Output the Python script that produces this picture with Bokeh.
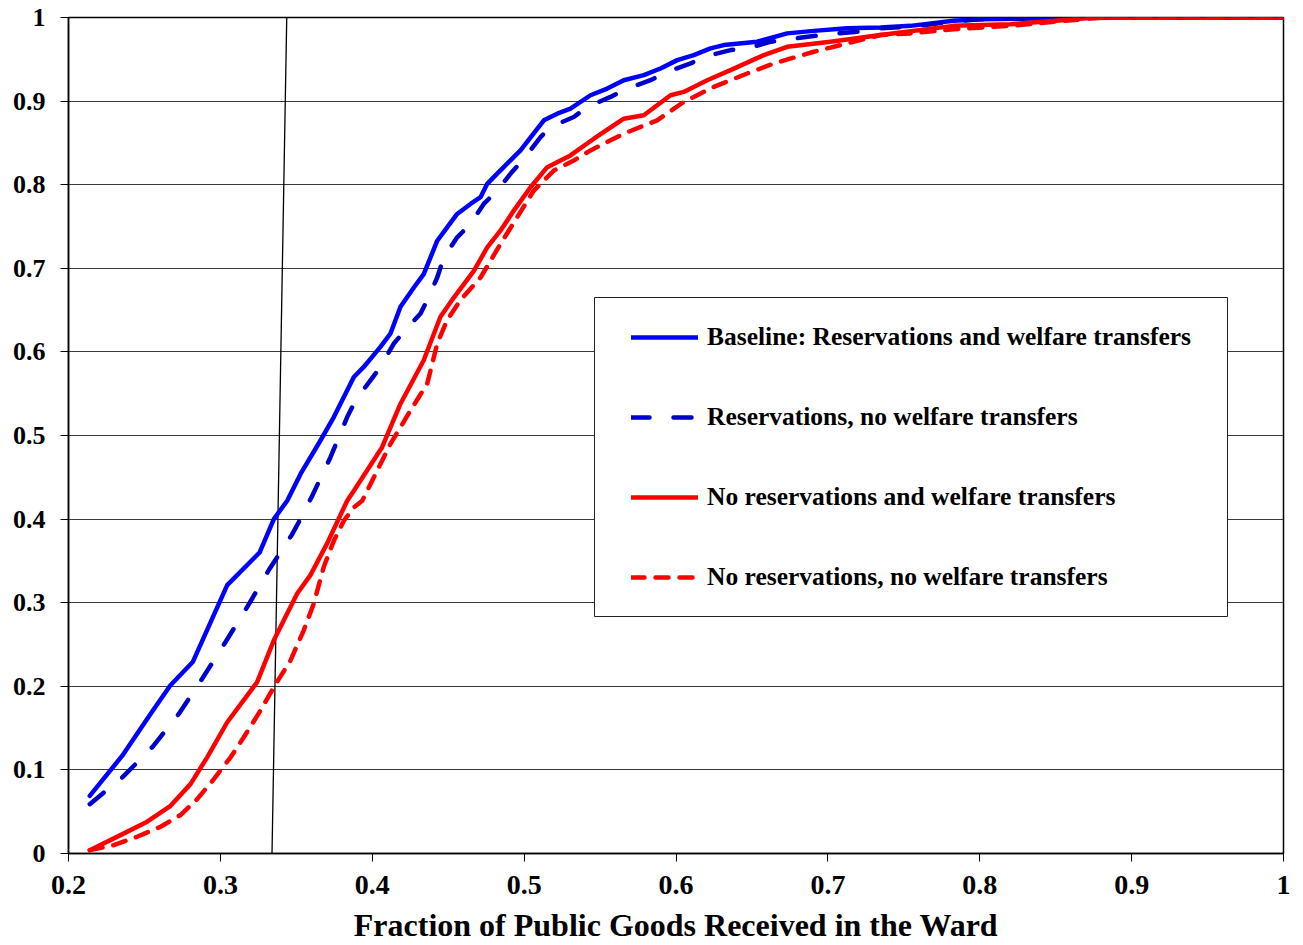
from bokeh.plotting import figure
from bokeh.models import FixedTicker, Legend, LegendItem, BoxAnnotation
from bokeh.embed import file_html
from bokeh.resources import INLINE

# ---------------- data ----------------
base_x = [0.214, 0.2354, 0.254, 0.267, 0.2818, 0.3045, 0.3258, 0.3352, 0.344, 0.3528, 0.3659, 0.3747,
          0.3879, 0.3944, 0.4054, 0.412, 0.4186, 0.4274, 0.4339, 0.4428, 0.4493, 0.4559, 0.4647, 0.4713,
          0.4757, 0.48, 0.491, 0.4976, 0.513, 0.5218, 0.5305, 0.5437, 0.5547, 0.5656, 0.5788, 0.5898,
          0.6008, 0.6117, 0.6227, 0.6315, 0.6534, 0.6732, 0.6907, 0.7127, 0.7346, 0.7544, 0.7827, 0.80,
          0.85, 0.9, 1.0]
base_y = [0.069, 0.117, 0.167, 0.201, 0.229, 0.321, 0.360, 0.400, 0.422, 0.454, 0.494, 0.522,
          0.570, 0.582, 0.606, 0.622, 0.654, 0.677, 0.693, 0.733, 0.749, 0.765, 0.777, 0.785,
          0.801, 0.809, 0.829, 0.841, 0.877, 0.885, 0.891, 0.907, 0.915, 0.925, 0.931, 0.939,
          0.949, 0.955, 0.963, 0.967, 0.971, 0.981, 0.984, 0.987, 0.988, 0.990, 0.996, 0.998,
          0.999, 1.0, 1.0]

res_nowel_x = [0.214, 0.2354, 0.2551, 0.2726, 0.288, 0.3034, 0.3177, 0.3319, 0.3473, 0.3539, 0.3605,
               0.3725, 0.3835, 0.389, 0.3988, 0.4054, 0.4142, 0.4208, 0.4318, 0.4362, 0.4428, 0.4471,
               0.4559, 0.4647, 0.4734, 0.4823, 0.491, 0.4998, 0.5108, 0.5174, 0.5327, 0.5415, 0.5569,
               0.5679, 0.5832, 0.5942, 0.6096, 0.6183, 0.6359, 0.6469, 0.6622, 0.6951, 0.7193, 0.7346,
               0.7544, 0.7827, 0.80, 0.85, 0.9, 1.0]
res_nowel_y = [0.059, 0.091, 0.127, 0.167, 0.209, 0.253, 0.295, 0.339, 0.382, 0.404, 0.428,
               0.474, 0.522, 0.542, 0.566, 0.582, 0.610, 0.624, 0.646, 0.662, 0.689, 0.713,
               0.737, 0.753, 0.777, 0.793, 0.813, 0.831, 0.857, 0.869, 0.881, 0.893, 0.905,
               0.915, 0.925, 0.935, 0.945, 0.953, 0.961, 0.963, 0.971, 0.979, 0.983, 0.987,
               0.989, 0.995, 0.998, 0.999, 1.0, 1.0]

nores_wel_x = [0.214, 0.2342, 0.2518, 0.2672, 0.2803, 0.2913, 0.3045, 0.3242, 0.3352, 0.344, 0.3506,
               0.3593, 0.3703, 0.3835, 0.3879, 0.4065, 0.4186, 0.4339, 0.4449, 0.4537, 0.4669, 0.4757,
               0.4844, 0.4932, 0.5042, 0.5152, 0.5305, 0.5459, 0.5656, 0.5788, 0.5964, 0.6051, 0.6205,
               0.6359, 0.6578, 0.6732, 0.7017, 0.7346, 0.7827, 0.8202, 0.85, 0.875, 1.0]
nores_wel_y = [0.004, 0.022, 0.038, 0.057, 0.083, 0.115, 0.157, 0.205, 0.255, 0.287, 0.311,
               0.333, 0.371, 0.422, 0.434, 0.486, 0.538, 0.590, 0.642, 0.665, 0.697, 0.725,
               0.745, 0.769, 0.797, 0.821, 0.835, 0.855, 0.879, 0.883, 0.907, 0.911, 0.925,
               0.937, 0.955, 0.965, 0.971, 0.979, 0.990, 0.992, 0.996, 1.0, 1.0]

nores_nowel_x = [0.214, 0.2298, 0.2452, 0.2606, 0.2737, 0.2847, 0.2957, 0.3067, 0.3154, 0.3264, 0.3352,
                 0.3462, 0.3549, 0.3615, 0.3681, 0.3747, 0.3813, 0.3879, 0.3934, 0.412, 0.4252, 0.4362,
                 0.4428, 0.4493, 0.4581, 0.4713, 0.4844, 0.4954, 0.5064, 0.5196, 0.5327, 0.5437, 0.5656,
                 0.5876, 0.6051, 0.6249, 0.6469, 0.6644, 0.6907, 0.7127, 0.7346, 0.7544, 0.7827, 0.8202,
                 0.85, 0.88, 1.0]
nores_nowel_y = [0.004, 0.010, 0.020, 0.032, 0.046, 0.065, 0.089, 0.115, 0.139, 0.171, 0.199,
                 0.231, 0.267, 0.299, 0.343, 0.374, 0.398, 0.414, 0.422, 0.490, 0.530, 0.562,
                 0.610, 0.638, 0.662, 0.689, 0.729, 0.761, 0.793, 0.817, 0.829, 0.841, 0.861,
                 0.877, 0.899, 0.917, 0.933, 0.945, 0.959, 0.969, 0.979, 0.981, 0.986, 0.990,
                 0.995, 1.0, 1.0]

ref_line_x = [0.3340, 0.3437]
ref_line_y = [0.0, 1.0]

series_labels = ["Baseline: Reservations and welfare transfers",
                 "Reservations, no welfare transfers",
                 "No reservations and welfare transfers",
                 "No reservations, no welfare transfers"]

x_ticks = [0.2, 0.3, 0.4, 0.5, 0.6, 0.7, 0.8, 0.9, 1.0]
x_tick_labels = ["0.2", "0.3", "0.4", "0.5", "0.6", "0.7", "0.8", "0.9", "1"]
y_ticks = [0.0, 0.1, 0.2, 0.3, 0.4, 0.5, 0.6, 0.7, 0.8, 0.9, 1.0]
y_tick_labels = ["0", "0.1", "0.2", "0.3", "0.4", "0.5", "0.6", "0.7", "0.8", "0.9", "1"]

x_title = "Fraction of Public Goods Received in the Ward"

# ---------------- figure ----------------
FONT = "Liberation Serif"

p = figure(width=1300, height=945, x_range=(0.2, 1.0), y_range=(0.0, 1.0),
           output_backend="svg", toolbar_location=None,
           min_border_left=68, min_border_top=17, min_border_right=17, min_border_bottom=92)
p.background_fill_color = "white"
p.border_fill_color = "white"
p.outline_line_color = "black"
p.outline_line_width = 1.5

p.xgrid.grid_line_color = None
p.ygrid.grid_line_color = "#3a3a3a"
p.ygrid.grid_line_width = 1

for ax, ticks, labels in ((p.xaxis[0], x_ticks, x_tick_labels), (p.yaxis[0], y_ticks, y_tick_labels)):
    ax.ticker = FixedTicker(ticks=ticks, minor_ticks=[])
    ax.major_label_overrides = {t: l for t, l in zip(ticks, labels)}
    ax.axis_line_color = "black"
    ax.axis_line_width = 1.5
    ax.major_tick_line_color = "black"
    ax.major_tick_line_width = 1
    ax.major_tick_in = 0
    ax.major_tick_out = 8
    ax.minor_tick_line_color = None
    ax.major_label_text_font = FONT
    ax.major_label_text_font_style = "bold"
    ax.major_label_text_color = "black"

p.xaxis.major_label_text_font_size = "28px"
p.xaxis.major_label_standoff = 14
p.yaxis.major_label_text_font_size = "26px"
p.yaxis.major_label_standoff = 15

p.xaxis.axis_label = x_title
p.xaxis.axis_label_text_font = FONT
p.xaxis.axis_label_text_font_style = "bold"
p.xaxis.axis_label_text_font_size = "32px"
p.xaxis.axis_label_text_color = "black"
p.xaxis.axis_label_standoff = 10

# reference line
p.line(ref_line_x, ref_line_y, line_color="black", line_width=1.3)

r1 = p.line(base_x, base_y, line_color="#0000FF", line_width=4.5, line_join="round", line_cap="round")
r2 = p.line(res_nowel_x, res_nowel_y, line_color="#0000CC", line_width=4.5, line_dash="18 24",
            line_join="round", line_cap="round")
r3 = p.line(nores_wel_x, nores_wel_y, line_color="#FF0000", line_width=4.5, line_join="round", line_cap="round")
r4 = p.line(nores_nowel_x, nores_nowel_y, line_color="#FF0000", line_width=4.5, line_dash="13 11",
            line_join="round", line_cap="round")

# legend frame
legend_box = BoxAnnotation(left=0.54634, right=0.96313, bottom=0.28349, top=0.66507,
                           fill_color="white", fill_alpha=1.0,
                           line_color="#222222", line_width=1, line_alpha=1.0)
p.add_layout(legend_box)

legend = Legend(items=[LegendItem(label=series_labels[0], renderers=[r1]),
                       LegendItem(label=series_labels[1], renderers=[r2]),
                       LegendItem(label=series_labels[2], renderers=[r3]),
                       LegendItem(label=series_labels[3], renderers=[r4])],
                location=(563, 261))
legend.label_text_font = FONT
legend.label_text_font_style = "bold"
legend.label_text_font_size = "25.5px"
legend.label_text_color = "black"
legend.border_line_color = None
legend.background_fill_alpha = 0
legend.padding = 0
legend.spacing = 50
legend.glyph_width = 67
legend.glyph_height = 30
legend.label_height = 30
legend.label_standoff = 9
legend.margin = 0
p.add_layout(legend)

open("out.html", "w").write(file_html(p, INLINE))
